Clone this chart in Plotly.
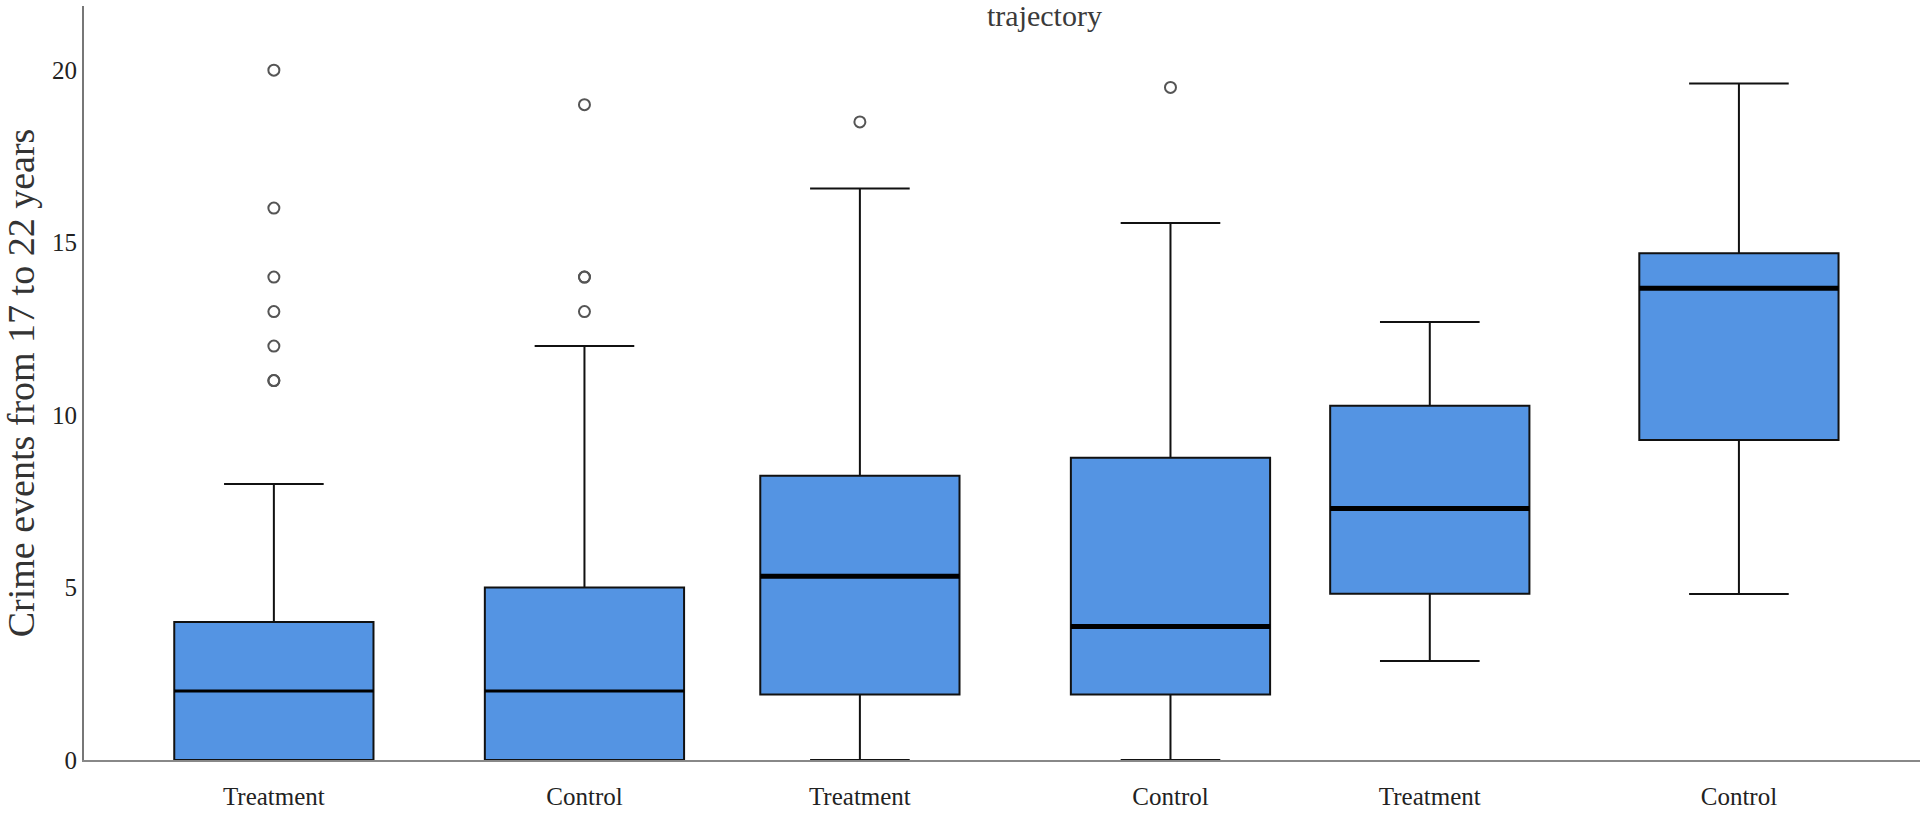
import plotly.graph_objects as go

# ---------------- data ----------------
groups = ["Treatment", "Control", "Treatment", "Control", "Treatment", "Control"]
q1 = [0.0, 0.0, 1.9, 1.9, 4.82, 9.28]
median = [2.0, 2.0, 5.33, 3.87, 7.29, 13.68]
q3 = [4.0, 5.0, 8.24, 8.76, 10.27, 14.69]
lower_whisker = [0.0, 0.0, 0.0, 0.0, 2.87, 4.81]
upper_whisker = [8.0, 12.0, 16.57, 15.57, 12.7, 19.61]
outliers = [
    [20, 16, 14, 13, 12, 11, 11],
    [19, 14, 14, 13],
    [18.5],
    [19.5],
    [],
    [],
]
y_ticks = [0, 5, 10, 15, 20]
y_title = "Crime events from 17 to 22 years"
chart_title = "trajectory"

# ---------------- styling / layout ----------------
# slot positions of the six panels along the x axis (layout, as in the collage)
positions = [0.0, 1.06, 2.0, 3.06, 3.945, 5.0]
box_width = 0.68
median_widths = [3, 3, 5, 5, 5, 5]
fill = "#5494E3"
serif = "Liberation Serif, Times New Roman, serif"

fig = go.Figure()
for i, p in enumerate(positions):
    fig.add_trace(go.Box(
        x=[p], q1=[q1[i]], median=[median[i]], q3=[q3[i]],
        lowerfence=[lower_whisker[i]], upperfence=[upper_whisker[i]],
        width=box_width, whiskerwidth=0.5,
        fillcolor=fill, line=dict(color="#111111", width=2),
        boxpoints=False, showlegend=False, hoverinfo="skip",
    ))
    # thicker median line overlay
    fig.add_trace(go.Scatter(
        x=[p - box_width / 2, p + box_width / 2], y=[median[i], median[i]],
        mode="lines", line=dict(color="#000000", width=median_widths[i]),
        showlegend=False, hoverinfo="skip",
    ))
    if outliers[i]:
        fig.add_trace(go.Scatter(
            x=[p] * len(outliers[i]), y=outliers[i], mode="markers",
            marker=dict(symbol="circle-open", size=11, color="#555555",
                        line=dict(width=2, color="#555555")),
            showlegend=False, hoverinfo="skip",
        ))

fig.update_layout(
    width=1920, height=815,
    margin=dict(l=84, r=0, t=6, b=55, autoexpand=False),
    paper_bgcolor="white", plot_bgcolor="white",
    font=dict(family=serif, color="#222222"),
    annotations=[dict(
        text=chart_title, xref="paper", yref="paper",
        x=0.523, y=0.988, xanchor="center", yanchor="middle",
        showarrow=False, font=dict(family=serif, size=30, color="#3a3a3a"),
    )],
)
fig.update_xaxes(
    range=[-0.648, 5.618], tickvals=positions, ticktext=groups,
    showgrid=False, zeroline=False, showline=True, linecolor="#888888", linewidth=2,
    ticks="", ticklabelstandoff=13, automargin=False,
    tickfont=dict(family=serif, size=25, color="#222222"),
)
fig.update_yaxes(
    range=[0, 21.86], tickvals=y_ticks,
    showgrid=False, zeroline=False, showline=True, linecolor="#777777", linewidth=2,
    ticks="", automargin=False,
    tickfont=dict(family=serif, size=25, color="#222222"),
    title=dict(text=y_title, font=dict(family=serif, size=38, color="#333333"), standoff=10),
)

fig.write_html("out.html", config={"displayModeBar": False},
               post_script="document.body.style.margin='0';")
